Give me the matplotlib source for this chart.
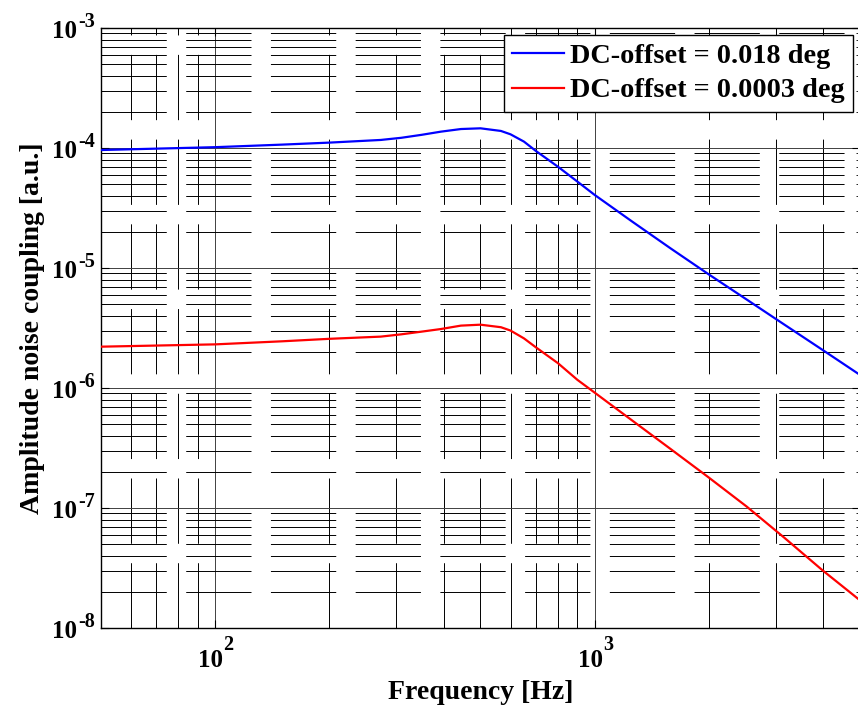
import matplotlib
matplotlib.use("Agg")
import matplotlib.pyplot as plt
from matplotlib.ticker import LogLocator, NullFormatter
import numpy as np

# ---- data ----
freq = [50, 100, 150, 200, 273, 309, 350, 393, 444, 500, 566, 600, 651, 700, 800,
        900, 1000, 1259, 1585, 1995, 2512, 3162, 3981, 4955]
coup_blue = [9.62e-5, 1.016e-4, 1.067e-4, 1.109e-4, 1.167e-4, 1.216e-4, 1.288e-4,
             1.368e-4, 1.439e-4, 1.459e-4, 1.387e-4, 1.300e-4, 1.130e-4, 9.44e-5,
             6.98e-5, 5.25e-5, 4.06e-5, 2.42e-5, 1.456e-5, 8.87e-6, 5.47e-6,
             3.37e-6, 2.08e-6, 1.31e-6]
coup_red = [2.21e-6, 2.31e-6, 2.45e-6, 2.57e-6, 2.68e-6, 2.80e-6, 2.95e-6, 3.10e-6,
            3.31e-6, 3.37e-6, 3.21e-6, 3.01e-6, 2.59e-6, 2.18e-6, 1.61e-6, 1.17e-6,
            9.14e-7, 5.32e-7, 3.10e-7, 1.80e-7, 1.03e-7, 5.64e-8, 3.03e-8, 1.74e-8]

labels = ["DC-offset = 0.018 deg", "DC-offset = 0.0003 deg"]
colors = ["#0000ff", "#ff0000"]
xlabel = "Frequency [Hz]"
ylabel = "Amplitude noise coupling [a.u.]"
x_major = [1e2, 1e3]
y_major = [1e-8, 1e-7, 1e-6, 1e-5, 1e-4, 1e-3]

plt.rcParams['font.family'] = ['Liberation Serif', 'DejaVu Serif']
plt.rcParams['font.weight'] = 'bold'
plt.rcParams['lines.scale_dashes'] = False

fig = plt.figure(figsize=(8.58, 7.05), dpi=100)
ax = fig.add_axes([101/858, 1 - 628/705, (860 - 101)/858, (628 - 28)/705])

ax.plot(freq, coup_blue, color=colors[0], lw=1.6, label=labels[0], zorder=3)
ax.plot(freq, coup_red, color=colors[1], lw=1.6, label=labels[1], zorder=3)

ax.set_xscale('log')
ax.set_yscale('log')
ax.set_xlim(50, 5000)
ax.set_ylim(1e-8, 1e-3)

ax.set_xticks(x_major)
ax.set_yticks(y_major)
ax.xaxis.set_minor_locator(LogLocator(base=10, subs=np.arange(2, 10), numticks=20))
ax.yaxis.set_minor_locator(LogLocator(base=10, subs=np.arange(2, 10), numticks=20))
for a in (ax.xaxis, ax.yaxis):
    a.set_major_formatter(NullFormatter())
    a.set_minor_formatter(NullFormatter())

ax.tick_params(which='both', direction='in', top=True, right=True)
ax.tick_params(which='major', length=6, width=0.8)
ax.tick_params(which='minor', length=3, width=0.6)

ax.grid(True, which='major', color='#404040', lw=0.7, ls='-')
ax.grid(True, which='minor', color='black', lw=0.7, ls=(0, (47, 14)))

for s in ax.spines.values():
    s.set_linewidth(1.0)

# MATLAB-style tick labels: "10" with a large superscript exponent
base_fs, exp_fs = 18, 14.5
for v in y_major:
    e = int(round(np.log10(v)))
    ax.annotate("10", xy=(0, v), xycoords=ax.get_yaxis_transform(),
                xytext=(-17.3, -7.2), textcoords='offset points',
                ha='right', va='baseline', fontsize=base_fs, fontweight='bold',
                annotation_clip=False)
    ax.annotate(str(e), xy=(0, v), xycoords=ax.get_yaxis_transform(),
                xytext=(-4.3, 1.0), textcoords='offset points',
                ha='right', va='baseline', fontsize=exp_fs, fontweight='bold',
                annotation_clip=False)
for v in x_major:
    e = int(round(np.log10(v)))
    ax.annotate("10", xy=(v, 0), xycoords=ax.get_xaxis_transform(),
                xytext=(5.8, -28.0), textcoords='offset points',
                ha='right', va='baseline', fontsize=base_fs, fontweight='bold',
                annotation_clip=False)
    ax.annotate(str(e), xy=(v, 0), xycoords=ax.get_xaxis_transform(),
                xytext=(6.0, -16.0), textcoords='offset points',
                ha='left', va='baseline', fontsize=exp_fs, fontweight='bold',
                annotation_clip=False)

ax.set_xlabel(xlabel, fontsize=20, fontweight='bold', labelpad=34)
ax.set_ylabel(ylabel, fontsize=20, fontweight='bold', labelpad=37)

leg = ax.legend(loc='upper right', fontsize=20.3, frameon=True, fancybox=False,
                edgecolor='black', framealpha=1, borderpad=0.3, labelspacing=0.3,
                handlelength=1.85, handletextpad=0.2, borderaxespad=0.25)
leg.get_frame().set_linewidth(1.0)

fig.savefig('out.png', dpi=100)
